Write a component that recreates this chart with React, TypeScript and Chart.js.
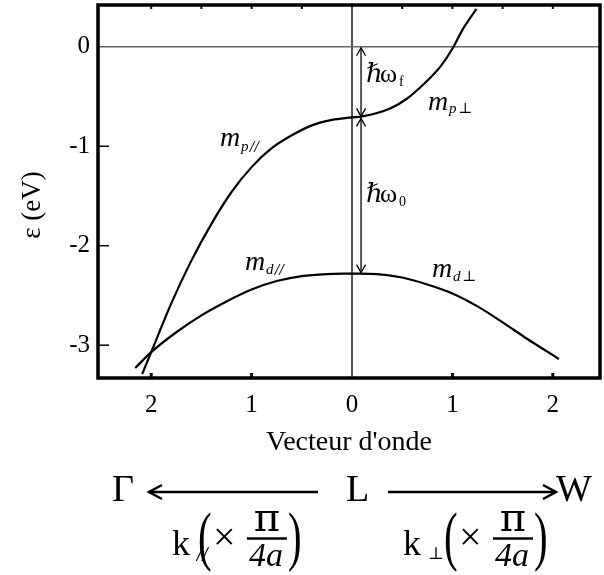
import { useEffect, useRef } from 'react';
import { Chart, registerables } from 'chart.js';
Chart.register(...registerables);

const X_TICKS = [-2, -1, 0, 1, 2];
const Y_TICKS = [-3, -2, -1, 0];
const TOP_TICKS = [-2, -1.5, -1, -0.5, 0.5, 1, 1.5, 2];
const X_MIN = -2.53;
const X_MAX = 2.47;
const Y_MIN = -3.33;
const Y_MAX = 0.42;

// m_p// (towards Γ, k negative side)
const MP_PAR_K = [0, -0.2, -0.4, -0.6, -0.8, -1.0, -1.2, -1.4, -1.6, -1.8, -2.0, -2.09];
const MP_PAR_E = [-0.71, -0.735, -0.79, -0.89, -1.02, -1.21, -1.46, -1.78, -2.15, -2.58, -3.07, -3.29];
// m_p⊥ (towards W)
const MP_PERP_K = [0, 0.10, 0.38, 0.55, 0.71, 0.88, 1.0, 1.10, 1.24];
const MP_PERP_E = [-0.71, -0.70, -0.62, -0.52, -0.38, -0.20, -0.02, 0.17, 0.38];
// m_d//
const MD_PAR_K = [0, -0.25, -0.5, -0.75, -1.0, -1.25, -1.5, -1.75, -2.0, -2.16];
const MD_PAR_E = [-2.28, -2.285, -2.305, -2.355, -2.44, -2.56, -2.70, -2.87, -3.07, -3.23];
// m_d⊥
const MD_PERP_K = [0, 0.25, 0.5, 0.75, 1.0, 1.25, 1.5, 1.75, 2.0, 2.06];
const MD_PERP_E = [-2.28, -2.285, -2.32, -2.39, -2.48, -2.61, -2.77, -2.94, -3.10, -3.14];

// energy gaps (double arrows)
const GAP_K = 0.09;
const HW_F = [0, -0.71];
const HW_0 = [-0.71, -2.27];

const SERIF = "'Liberation Serif', 'Times New Roman', 'DejaVu Serif', serif";

const pts = (k: number[], e: number[]) => k.map((v, i) => ({ x: v, y: e[i] }));

function text(ctx: CanvasRenderingContext2D, s: string, x: number, y: number, size: number, style = '', family = SERIF, align: CanvasTextAlign = 'left') {
  ctx.font = `${style} ${size}px ${family}`;
  ctx.textAlign = align;
  ctx.textBaseline = 'alphabetic';
  ctx.fillStyle = '#000';
  ctx.fillText(s, x, y);
}

function line(ctx: CanvasRenderingContext2D, x1: number, y1: number, x2: number, y2: number, w: number) {
  ctx.lineWidth = w;
  ctx.beginPath();
  ctx.moveTo(x1, y1);
  ctx.lineTo(x2, y2);
  ctx.stroke();
}

function vArrow(ctx: CanvasRenderingContext2D, x: number, y1: number, y2: number) {
  ctx.strokeStyle = '#000';
  line(ctx, x, y1, x, y2, 1.3);
  ctx.beginPath();
  ctx.moveTo(x - 4.5, y1 + 8);
  ctx.lineTo(x, y1);
  ctx.lineTo(x + 4.5, y1 + 8);
  ctx.moveTo(x - 4.5, y2 - 8);
  ctx.lineTo(x, y2);
  ctx.lineTo(x + 4.5, y2 - 8);
  ctx.stroke();
}

function paren(ctx: CanvasRenderingContext2D, s: string, x: number, y: number) {
  ctx.save();
  ctx.translate(x, y);
  ctx.scale(0.62, 1);
  text(ctx, s, 0, 0, 66, '', SERIF);
  ctx.restore();
}

function kLabel(ctx: CanvasRenderingContext2D, x0: number, sub: string) {
  text(ctx, 'k', x0, 555, 36);
  if (sub === '//') {
    text(ctx, '//', x0 + 25, 559, 16, 'italic', "'DejaVu Serif', serif");
  } else {
    text(ctx, sub, x0 + 25, 559, 17, '');
  }
  const px = x0 + (sub === '⊥' ? 41 : 26);
  paren(ctx, '(', px, 558);
  text(ctx, '×', px + 15, 550, 40);
  const fx = px + 49;
  text(ctx, 'π', fx + 20, 531, 40, '', "'DejaVu Serif', serif", 'center');
  ctx.strokeStyle = '#000';
  line(ctx, fx, 538.5, fx + 40, 538.5, 2.5);
  text(ctx, '4a', fx + 19, 566, 34, 'italic', SERIF, 'center');
  paren(ctx, ')', fx + 41, 558);
}

const decor = {
  id: 'decor',
  afterDraw(chart: any) {
    const { ctx, chartArea: a, scales } = chart;
    const xs = scales.x;
    const ys = scales.y;
    ctx.save();
    ctx.strokeStyle = '#000';
    // inward ticks
    Y_TICKS.filter((v) => v !== 0).forEach((v) => {
      const py = ys.getPixelForValue(v);
      line(ctx, a.left, py, a.left + 11, py, 1.5);
    });
    X_TICKS.filter((v) => v !== 0).forEach((v) => {
      const px = xs.getPixelForValue(v);
      line(ctx, px, a.bottom, px, a.bottom - 5, 3);
    });
    TOP_TICKS.forEach((v) => {
      const px = xs.getPixelForValue(v);
      line(ctx, px, a.top, px, a.top + 4, 2);
    });
    // frame
    ctx.lineWidth = 3.5;
    ctx.strokeRect(a.left, a.top, a.right - a.left, a.bottom - a.top);

    // gap arrows
    const gx = xs.getPixelForValue(GAP_K);
    vArrow(ctx, gx, ys.getPixelForValue(HW_F[0]) + 1, ys.getPixelForValue(HW_F[1]) - 1);
    vArrow(ctx, gx, ys.getPixelForValue(HW_0[0]) + 1, ys.getPixelForValue(HW_0[1]));

    // hbar omega labels
    text(ctx, 'ℏ', 366, 82, 26, 'italic');
    text(ctx, 'ω', 380, 82, 26);
    text(ctx, 'f', 399, 86, 14);
    text(ctx, 'ℏ', 366, 202, 26, 'italic');
    text(ctx, 'ω', 380, 202, 26);
    text(ctx, '0', 399, 206, 14);

    // effective mass labels
    text(ctx, 'm', 220, 146, 28, 'italic');
    text(ctx, 'p', 241, 151, 15, 'italic');
    text(ctx, '//', 250, 151, 13, 'italic', "'DejaVu Serif', serif");
    text(ctx, 'm', 245, 270, 28, 'italic');
    text(ctx, 'd', 266, 274, 15, 'italic');
    text(ctx, '//', 275, 274, 13, 'italic', "'DejaVu Serif', serif");
    text(ctx, 'm', 428, 110, 28, 'italic');
    text(ctx, 'p', 449, 113, 15, 'italic');
    text(ctx, '⊥', 458, 113, 15);
    text(ctx, 'm', 432, 277, 28, 'italic');
    text(ctx, 'd', 453, 281, 15, 'italic');
    text(ctx, '⊥', 462, 281, 15);

    // y axis title
    ctx.save();
    ctx.translate(31, 205);
    ctx.rotate(-Math.PI / 2);
    text(ctx, 'ε (eV)', 0, 9, 27, '', SERIF, 'center');
    ctx.restore();

    // direction line
    text(ctx, 'Γ', 112, 501, 38);
    text(ctx, 'L', 346, 501, 38);
    text(ctx, 'W', 556, 501, 38);
    ctx.strokeStyle = '#000';
    line(ctx, 149, 492, 318, 492, 2.5);
    ctx.beginPath();
    ctx.moveTo(162, 485);
    ctx.lineTo(149, 492);
    ctx.lineTo(162, 499);
    ctx.stroke();
    line(ctx, 388, 492, 556, 492, 2.5);
    ctx.beginPath();
    ctx.moveTo(543, 485);
    ctx.lineTo(556, 492);
    ctx.lineTo(543, 499);
    ctx.stroke();

    kLabel(ctx, 172, '//');
    kLabel(ctx, 403, '⊥');
    ctx.restore();
  },
};

export default function App() {
  const ref = useRef<HTMLCanvasElement | null>(null);
  useEffect(() => {
    if (!ref.current) return;
    const ds = (k: number[], e: number[]) => ({
      data: pts(k, e),
      showLine: true,
      borderColor: '#000',
      borderWidth: 2.2,
      pointRadius: 0,
      cubicInterpolationMode: 'monotone',
      fill: false,
    });
    const chart = new Chart(ref.current, {
      type: 'scatter',
      data: {
        datasets: [
          ds(MP_PAR_K, MP_PAR_E),
          ds(MP_PERP_K, MP_PERP_E),
          ds(MD_PAR_K, MD_PAR_E),
          ds(MD_PERP_K, MD_PERP_E),
        ],
      },
      options: {
        responsive: false,
        devicePixelRatio: 1,
        animation: false,
        layout: { padding: { left: 0, top: 5, right: 4, bottom: 0 } },
        plugins: { legend: { display: false }, tooltip: { enabled: false } },
        scales: {
          x: {
            type: 'linear',
            min: X_MIN,
            max: X_MAX,
            afterBuildTicks: (s: any) => { s.ticks = X_TICKS.map((v) => ({ value: v })); },
            afterFit: (s: any) => { s.height = 197; s.paddingLeft = 0; s.paddingRight = 0; },
            ticks: {
              autoSkip: false,
              maxRotation: 0,
              padding: 12,
              color: '#000',
              font: { family: SERIF, size: 25 },
              callback: (v: any) => String(Math.abs(Number(v))),
            },
            grid: {
              drawTicks: false,
              lineWidth: 2,
              color: (c: any) => (c.tick && c.tick.value === 0 ? '#555' : 'rgba(0,0,0,0)'),
            },
            border: { display: false },
            title: {
              display: true,
              text: "Vecteur d'onde",
              color: '#000',
              font: { family: SERIF, size: 28 },
              padding: { top: 0, bottom: 116 },
            },
          },
          y: {
            type: 'linear',
            min: Y_MIN,
            max: Y_MAX,
            afterBuildTicks: (s: any) => { s.ticks = Y_TICKS.map((v) => ({ value: v })); },
            afterFit: (s: any) => { s.width = 98; s.paddingTop = 0; s.paddingBottom = 0; },
            ticks: {
              autoSkip: false,
              padding: 8,
              color: '#000',
              font: { family: SERIF, size: 25 },
              callback: (v: any) => String(v),
            },
            grid: {
              drawTicks: false,
              lineWidth: 1.5,
              color: (c: any) => (c.tick && c.tick.value === 0 ? '#666' : 'rgba(0,0,0,0)'),
            },
            border: { display: false },
          },
        },
      },
      plugins: [decor],
    } as any);
    return () => chart.destroy();
  }, []);
  return (
    <div style={{ position: 'absolute', left: 0, top: 0, width: 604, height: 575, background: '#fff' }}>
      <canvas ref={ref} width={604} height={575} style={{ display: 'block' }} />
    </div>
  );
}
